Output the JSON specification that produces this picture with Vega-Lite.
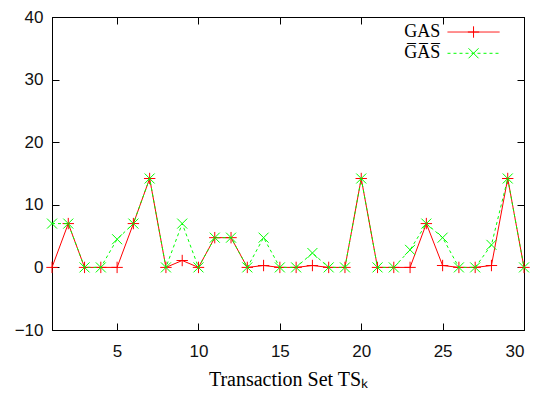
{
  "$schema": "https://vega.github.io/schema/vega-lite/v6.json",
  "autosize": {"type": "none"},
  "padding": {"left": 52, "top": 17, "right": 26, "bottom": 66},
  "width": 472,
  "height": 313,
  "config": {
    "view": {"stroke": "black", "strokeWidth": 1},
    "axis": {
      "grid": false,
      "domainColor": "black",
      "tickColor": "black",
      "labelColor": "#111",
      "labelFont": "Liberation Sans",
      "labelFontSize": 17,
      "tickSize": -7,
      "titleFont": "Liberation Serif",
      "titleFontSize": 20,
      "titleFontWeight": "normal",
      "titleColor": "black"
    }
  },
  "datasets": {
    "main": [
      {"k": 1, "series": "GAS", "value": 0}, {"k": 2, "series": "GAS", "value": 7}, {"k": 3, "series": "GAS", "value": 0}, {"k": 4, "series": "GAS", "value": 0}, {"k": 5, "series": "GAS", "value": 0},
      {"k": 6, "series": "GAS", "value": 7}, {"k": 7, "series": "GAS", "value": 14.2}, {"k": 8, "series": "GAS", "value": 0}, {"k": 9, "series": "GAS", "value": 1.1}, {"k": 10, "series": "GAS", "value": 0},
      {"k": 11, "series": "GAS", "value": 4.75}, {"k": 12, "series": "GAS", "value": 4.75}, {"k": 13, "series": "GAS", "value": 0}, {"k": 14, "series": "GAS", "value": 0.3}, {"k": 15, "series": "GAS", "value": 0},
      {"k": 16, "series": "GAS", "value": 0}, {"k": 17, "series": "GAS", "value": 0.3}, {"k": 18, "series": "GAS", "value": 0}, {"k": 19, "series": "GAS", "value": 0}, {"k": 20, "series": "GAS", "value": 14.2},
      {"k": 21, "series": "GAS", "value": 0}, {"k": 22, "series": "GAS", "value": 0}, {"k": 23, "series": "GAS", "value": 0}, {"k": 24, "series": "GAS", "value": 7}, {"k": 25, "series": "GAS", "value": 0.3},
      {"k": 26, "series": "GAS", "value": 0}, {"k": 27, "series": "GAS", "value": 0}, {"k": 28, "series": "GAS", "value": 0.3}, {"k": 29, "series": "GAS", "value": 14.2}, {"k": 30, "series": "GAS", "value": 0},
      {"k": 1, "series": "GAS2", "value": 7}, {"k": 2, "series": "GAS2", "value": 7}, {"k": 3, "series": "GAS2", "value": 0}, {"k": 4, "series": "GAS2", "value": 0}, {"k": 5, "series": "GAS2", "value": 4.5},
      {"k": 6, "series": "GAS2", "value": 7}, {"k": 7, "series": "GAS2", "value": 14.2}, {"k": 8, "series": "GAS2", "value": 0}, {"k": 9, "series": "GAS2", "value": 7}, {"k": 10, "series": "GAS2", "value": 0},
      {"k": 11, "series": "GAS2", "value": 4.75}, {"k": 12, "series": "GAS2", "value": 4.75}, {"k": 13, "series": "GAS2", "value": 0}, {"k": 14, "series": "GAS2", "value": 4.75}, {"k": 15, "series": "GAS2", "value": 0},
      {"k": 16, "series": "GAS2", "value": 0}, {"k": 17, "series": "GAS2", "value": 2.3}, {"k": 18, "series": "GAS2", "value": 0}, {"k": 19, "series": "GAS2", "value": 0}, {"k": 20, "series": "GAS2", "value": 14.2},
      {"k": 21, "series": "GAS2", "value": 0}, {"k": 22, "series": "GAS2", "value": 0}, {"k": 23, "series": "GAS2", "value": 2.8}, {"k": 24, "series": "GAS2", "value": 7}, {"k": 25, "series": "GAS2", "value": 4.75},
      {"k": 26, "series": "GAS2", "value": 0}, {"k": 27, "series": "GAS2", "value": 0}, {"k": 28, "series": "GAS2", "value": 3.6}, {"k": 29, "series": "GAS2", "value": 14.2}, {"k": 30, "series": "GAS2", "value": 0}
    ],
    "legend": [
      {"series": "GAS", "label": "GAS", "x1": 25.3, "x2": 28.5, "xm": 26.9, "xt": 24.85, "y": 37.6},
      {"series": "GAS2", "label": "G̅A̅S̅", "x1": 25.3, "x2": 28.5, "xm": 26.9, "xt": 24.85, "y": 34.2}
    ]
  },
  "data": {"name": "main"},
  "resolve": {"axis": {"x": "independent", "y": "independent"}},
  "layer": [
    {
      "transform": [{"filter": "datum.series === 'GAS'"}],
      "mark": {"type": "line", "color": "#ff0000", "strokeWidth": 1},
      "encoding": {
        "x": {"field": "k", "type": "quantitative", "scale": {"domain": [1, 30], "nice": false, "zero": false},
              "axis": {"orient": "bottom", "values": [5, 10, 15, 20, 25, 30], "title": "Transaction Set TSₖ", "labelPadding": 20, "titlePadding": 10}},
        "y": {"field": "value", "type": "quantitative", "scale": {"domain": [-10, 40], "nice": false},
              "axis": {"orient": "left", "values": [-10, 0, 10, 20, 30, 40], "title": null, "labelPadding": 16}}
      }
    },
    {
      "transform": [{"filter": "datum.series === 'GAS'"}],
      "mark": {"type": "point", "shape": "M-1,0L1,0M0,-1L0,1", "filled": false, "stroke": "#ff0000", "strokeWidth": 1, "size": 130, "opacity": 1},
      "encoding": {
        "x": {"field": "k", "type": "quantitative", "axis": null},
        "y": {"field": "value", "type": "quantitative", "axis": null}
      }
    },
    {
      "transform": [{"filter": "datum.series === 'GAS2'"}],
      "mark": {"type": "line", "color": "#00ff00", "strokeWidth": 1, "strokeDash": [3, 3]},
      "encoding": {
        "x": {"field": "k", "type": "quantitative",
              "axis": {"orient": "top", "values": [5, 10, 15, 20, 25, 30], "labels": false, "title": null}},
        "y": {"field": "value", "type": "quantitative",
              "axis": {"orient": "right", "values": [-10, 0, 10, 20, 30, 40], "labels": false, "title": null}}
      }
    },
    {
      "transform": [{"filter": "datum.series === 'GAS2'"}],
      "mark": {"type": "point", "shape": "M-1,-1L1,1M-1,1L1,-1", "filled": false, "stroke": "#00ff00", "strokeWidth": 1, "size": 100, "opacity": 1},
      "encoding": {
        "x": {"field": "k", "type": "quantitative", "axis": null},
        "y": {"field": "value", "type": "quantitative", "axis": null}
      }
    },
    {
      "data": {"name": "legend"},
      "mark": {"type": "rule", "strokeWidth": 1},
      "encoding": {
        "x": {"field": "x1", "type": "quantitative", "axis": null},
        "x2": {"field": "x2"},
        "y": {"field": "y", "type": "quantitative", "axis": null},
        "color": {"field": "series", "type": "nominal", "scale": {"domain": ["GAS", "GAS2"], "range": ["#ff0000", "#00ff00"]}, "legend": null},
        "strokeDash": {"field": "series", "type": "nominal", "scale": {"domain": ["GAS", "GAS2"], "range": [[1, 0], [3, 3]]}, "legend": null}
      }
    },
    {
      "data": {"name": "legend"},
      "mark": {"type": "point", "filled": false, "strokeWidth": 1, "opacity": 1},
      "encoding": {
        "x": {"field": "xm", "type": "quantitative", "axis": null},
        "y": {"field": "y", "type": "quantitative", "axis": null},
        "color": {"field": "series", "type": "nominal", "scale": {"domain": ["GAS", "GAS2"], "range": ["#ff0000", "#00ff00"]}, "legend": null},
        "shape": {"field": "series", "type": "nominal", "scale": {"domain": ["GAS", "GAS2"], "range": ["M-1,0L1,0M0,-1L0,1", "M-1,-1L1,1M-1,1L1,-1"]}, "legend": null},
        "size": {"field": "series", "type": "nominal", "scale": {"domain": ["GAS", "GAS2"], "range": [130, 100]}, "legend": null}
      }
    },
    {
      "data": {"name": "legend"},
      "mark": {"type": "text", "align": "right", "baseline": "middle", "font": "Liberation Serif", "fontSize": 18, "color": "black"},
      "encoding": {
        "x": {"field": "xt", "type": "quantitative", "axis": null},
        "y": {"field": "y", "type": "quantitative", "axis": null},
        "text": {"field": "label"}
      }
    }
  ]
}
